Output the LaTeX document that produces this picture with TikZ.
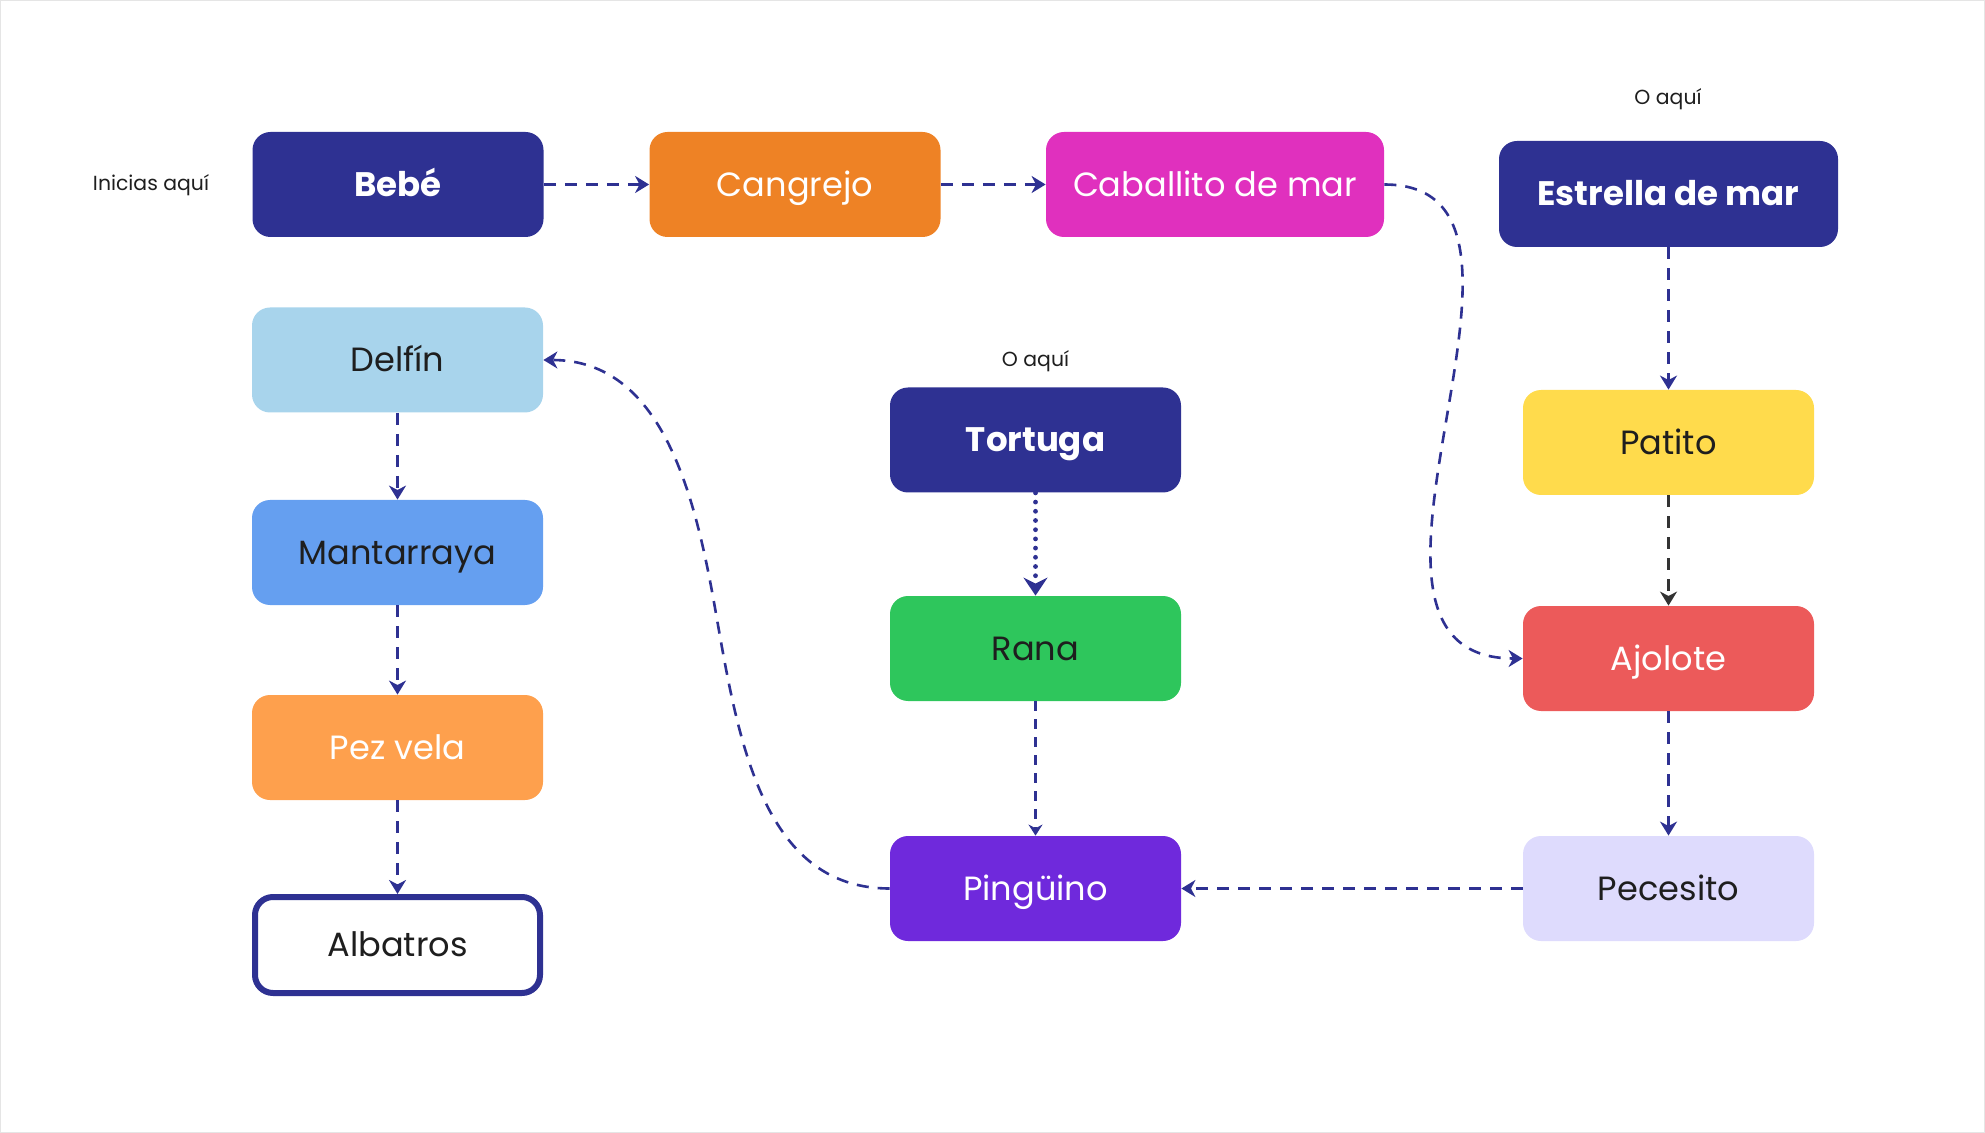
\documentclass[tikz,border=0pt]{standalone}
\usepackage{fontspec}
\setmainfont{Poppins}
\usetikzlibrary{arrows.meta}
\definecolor{navy}{HTML}{2E3192}
\definecolor{crab}{HTML}{EE8225}
\definecolor{magen}{HTML}{E030BE}
\definecolor{lblue}{HTML}{A8D4EC}
\definecolor{mblue}{HTML}{659FF0}
\definecolor{sail}{HTML}{FEA04D}
\definecolor{frog}{HTML}{2EC65C}
\definecolor{peng}{HTML}{6F29DC}
\definecolor{duck}{HTML}{FFDB4C}
\definecolor{axo}{HTML}{EC5A5A}
\definecolor{fish}{HTML}{DEDBFD}
\definecolor{ink}{HTML}{1E1E1E}
\definecolor{grayarrow}{HTML}{333333}
\tikzset{
  box/.style={rectangle, rounded corners=9pt, minimum width=145.5pt, minimum height=52.5pt,
    inner sep=0pt, font=\fontsize{16.8}{20}\selectfont, text=white,
    text height=11.8pt, text depth=0pt},
  darktext/.style={text=ink},
  boldtext/.style={font=\fontsize{17}{20}\selectfont\bfseries},
  note/.style={font=\fontsize{10.2}{12}\selectfont, text=ink},
  link/.style={draw=navy, line width=1.3pt, dash pattern=on 6pt off 4.5pt,
    -{Stealth[length=7pt,width=8.5pt,inset=2.2pt]}},
  dotlink/.style={draw=navy, line width=2.4pt, line cap=round, dash pattern=on 0pt off 4.6pt,
    -{Stealth[length=9pt,width=12pt,inset=3pt]}},
  thinlink/.style={draw=navy, line width=1.1pt, dash pattern=on 5pt off 4pt,
    -{Stealth[length=5.5pt,width=7pt,inset=1.8pt]}},
}
\begin{document}
\begin{tikzpicture}[x=0.5pt,y=0.5pt]
\useasboundingbox (0,0) rectangle (1985,-1133);
\draw[black!10, line width=0.5pt] (0.5,-0.5) rectangle (1984.5,-1132.5);

% notes
\node[note] (n1) at (151,-185) {Inicias aquí};
\node[note] (n2) at (1668,-99) {O aquí};
\node[note] (n3) at (1035.5,-361) {O aquí};

% top row
\node[box, boldtext, fill=navy] (beb) at (398,-184.5) {Bebé};
\node[box, fill=crab] (can) at (795,-184.5) {Cangrejo};
\node[box, fill=magen, minimum width=169pt] (cab) at (1215,-184.5) {Caballito de mar};
\node[box, boldtext, fill=navy, minimum width=169.5pt, minimum height=53pt] (est) at (1668.5,-194) {Estrella de mar};

% left column
\node[box, darktext, fill=lblue] (del) at (397.5,-360) {Delfín};
\node[box, darktext, fill=mblue] (man) at (397.5,-552.5) {Mantarraya};
\node[box, fill=sail] (pez) at (397.5,-747.5) {Pez vela};
\node[box, darktext, fill=white, draw=navy, line width=3pt, minimum width=142.5pt, minimum height=48pt] (alb) at (397.5,-945) {Albatros};

% middle column
\node[box, boldtext, fill=navy] (tor) at (1035.5,-440) {Tortuga};
\node[box, darktext, fill=frog] (ran) at (1035.5,-648.5) {Rana};
\node[box, fill=peng] (pin) at (1035.5,-888.5) {Pingüino};

% right column
\node[box, darktext, fill=duck] (pat) at (1668.5,-442.5) {Patito};
\node[box, fill=axo] (ajo) at (1668.5,-658.5) {Ajolote};
\node[box, darktext, fill=fish] (pec) at (1668.5,-888.5) {Pecesito};

% connectors
\draw[link] (beb.east) -- (can.west);
\draw[link] (can.east) -- (cab.west);
\draw[link] (cab.east) .. controls (1590,-184.5) and (1300,-658.5) .. (ajo.west);
\draw[link] (est.south) -- (pat.north);
\draw[link, draw=grayarrow] (pat.south) -- (ajo.north);
\draw[link] (ajo.south) -- (pec.north);
\draw[link] (pec.west) -- (pin.east);
\draw[dotlink] (tor.south) -- (ran.north);
\draw[thinlink] (ran.south) -- (pin.north);
\coordinate (pmid) at (715,-608);
\draw[link] (pin.west) to[out=180,in=-80] (pmid) to[out=100,in=0] (del.east);
\draw[link] (del.south) -- (man.north);
\draw[link] (man.south) -- (pez.north);
\draw[link] (pez.south) -- (alb.north);
\end{tikzpicture}
\end{document}
